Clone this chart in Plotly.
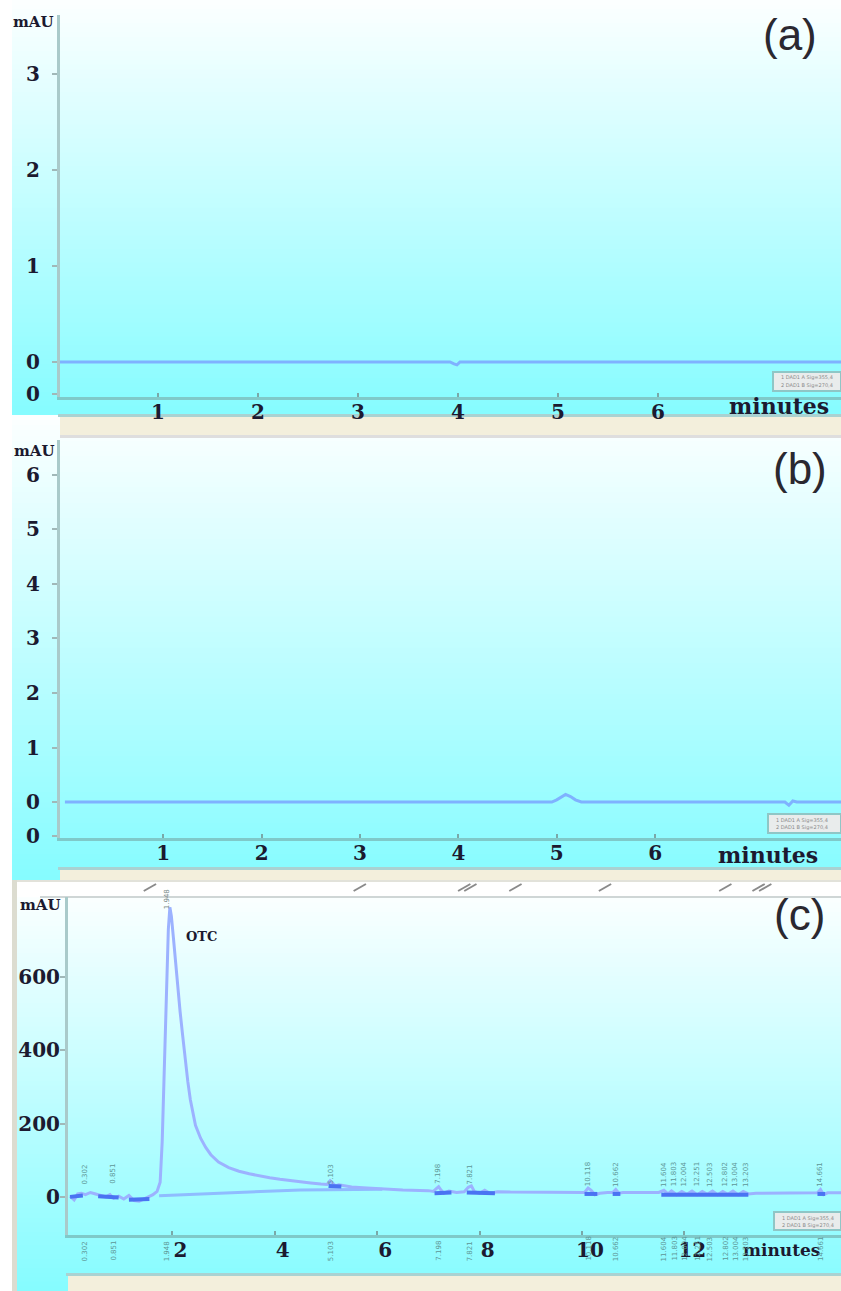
import plotly.graph_objects as go

W, H = 841, 1291

# ---------------- data ----------------
# (a) blank injection: flat trace
time_a = [0.00, 3.92, 3.96, 3.99, 4.02, 7.85]
mau_a = [0.00, 0.00, -0.02, -0.03, 0.00, 0.00]

# (b) blank sample: flat trace with a tiny bump
time_b = [0.00, 4.95, 5.00, 5.05, 5.09, 5.14, 5.19, 5.25, 7.32, 7.36, 7.40, 7.44, 7.90]
mau_b = [0.00, 0.00, 0.04, 0.10, 0.14, 0.10, 0.04, 0.00, 0.00, -0.06, 0.02, 0.00, 0.00]

# (c) spiked sample (OTC)
time_c = [0.00, 0.08, 0.15, 0.22, 0.30, 0.40, 0.50, 0.60, 0.70, 0.78, 0.85, 0.95, 1.05,
          1.15, 1.25, 1.35, 1.45, 1.55, 1.62, 1.70, 1.76, 1.80, 1.84, 1.88, 1.92, 1.95,
          1.98, 2.02, 2.06, 2.10, 2.15, 2.20, 2.25, 2.30, 2.35, 2.40, 2.45, 2.55, 2.65,
          2.75, 2.90, 3.10, 3.30, 3.50, 3.70, 3.90, 4.10, 4.30, 4.50, 4.70, 4.90, 5.02,
          5.08, 5.12, 5.18, 5.25, 5.35, 5.50, 5.80, 6.10, 6.50, 7.00, 7.10, 7.15, 7.20,
          7.25, 7.30, 7.40, 7.55, 7.70, 7.78, 7.84, 7.90, 8.00, 8.10, 8.20, 8.35, 8.60,
          9.20, 9.80, 10.05, 10.12, 10.18, 10.25, 10.35, 10.50, 10.60, 10.66, 10.72,
          10.80, 11.20, 11.50, 11.60, 11.68, 11.75, 11.85, 11.95, 12.05, 12.15, 12.25,
          12.35, 12.45, 12.55, 12.65, 12.75, 12.85, 12.95, 13.05, 13.15, 13.25, 13.40,
          13.80, 14.40, 14.60, 14.66, 14.72, 14.80, 15.10]
mau_c = [2, -8, 8, 10, 6, 12, 8, 4, 0, 6, -4, 2, -6,
         4, -10, -12, -6, 0, 6, 15, 40, 150, 330, 520, 730, 790,
         765, 705, 640, 575, 505, 440, 375, 315, 265, 225, 195, 160, 135,
         115, 95, 80, 70, 63, 57, 52, 48, 44, 41, 38, 35, 34,
         44, 38, 30, 33, 30, 27, 24, 21, 19, 17, 15, 22, 28,
         18, 10, 16, 12, 14, 26, 30, 14, 10, 18, 10, 14, 13,
         12, 12, 12, 24, 18, 6, 10, 12, 12, 20, 10,
         12, 12, 12, 18, 8, 16, 6, 15, 7, 16, 6,
         15, 7, 16, 6, 15, 7, 16, 6, 15, 8, 10,
         11, 11, 11, 20, 6, 11, 11]

# integration baseline under the OTC peak
time_base = [1.74, 4.50, 6.10]
mau_base = [3, 19, 21]

# darker integration segments
seg_time = [0.00, 0.25, None, 0.55, 0.95, None, 1.15, 1.55, None, 5.05, 5.30, None,
            7.12, 7.45, None, 7.75, 8.30, None, 10.05, 10.30, None, 10.60, 10.75, None,
            11.55, 13.25, None, 14.60, 14.75]
seg_mau = [0, 4, None, 2, -2, None, -8, -6, None, 30, 28, None,
           10, 12, None, 12, 10, None, 8, 8, None, 8, 8, None,
           6, 6, None, 8, 8]

# peak retention-time labels (c)
peak_rt = [0.30, 0.85, 5.10, 7.20, 7.82, 10.12, 10.66, 11.60, 11.80, 12.00, 12.25,
           12.50, 12.80, 13.00, 13.20, 14.66]
peak_txt = ["0.302", "0.851", "5.103", "7.198", "7.821", "10.118", "10.662", "11.604",
            "11.803", "12.004", "12.251", "12.503", "12.802", "13.004", "13.203", "14.661"]
otc_rt = 1.95
otc_mau = 790

# event marks above panel (c)
event_rt = [1.56, 5.66, 7.70, 7.82, 8.70, 10.45, 12.80, 13.45, 13.58]

xt_a = [1, 2, 3, 4, 5, 6]
xt_b = [1, 2, 3, 4, 5, 6]
xt_c = [2, 4, 6, 8, 10, 12]
yt_a = [-0.33, 0, 1, 2, 3]
yt_a_txt = ["0", "0", "1", "2", "3"]
yt_b = [-0.62, 0, 1, 2, 3, 4, 5, 6]
yt_b_txt = ["0", "0", "1", "2", "3", "4", "5", "6"]
yt_c = [-108, 0, 200, 400, 600]
yt_c_txt = ["0", "0", "200", "400", "600"]

# ---------------- helpers ----------------
def px(x):
    return x / W

def py(y):
    return 1 - y / H

shapes = []

def rect(x0, y0, x1, y1, color, line=None, lw=0):
    shapes.append(dict(type="rect", xref="paper", yref="paper",
                       x0=px(x0), x1=px(x1), y0=py(y1), y1=py(y0),
                       fillcolor=color, line=dict(width=lw, color=line or color),
                       layer="below"))

def gradient(x0, y0, x1, y1, top, bot, n=90):
    h = (y1 - y0) / n
    for i in range(n):
        f = i / (n - 1)
        c = tuple(round(top[k] + (bot[k] - top[k]) * f) for k in range(3))
        rect(x0, y0 + i * h, x1, min(y1, y0 + (i + 1) * h + 1),
             "rgb(%d,%d,%d)" % c)

TOP = (252, 255, 255)
BOT = (134, 252, 255)
BEIGE = "#f3efdc"

# panel backgrounds
gradient(12, 0, 841, 415, TOP, BOT)
gradient(12, 415, 841, 880, TOP, BOT)
gradient(17, 880, 841, 1291, (255, 255, 255), BOT)
# white header of panel (c)
rect(17, 880, 841, 897, "#ffffff")
rect(12, 880, 17, 1291, "#dcdcd0")
rect(17, 880, 841, 882, "#e2e2da")
rect(40, 896, 841, 898, "#cfd6d6")
# beige separator strips
rect(58, 414, 841, 417, "#a9d2d2")
rect(60, 417, 841, 437, BEIGE)
rect(60, 435, 841, 438, "#dedede")
rect(58, 867, 841, 870, "#a9d2d2")
rect(60, 870, 841, 880, BEIGE)
rect(66, 1273, 841, 1276, "#a9d2d2")
rect(68, 1276, 841, 1291, BEIGE)

# legend-like boxes
for (x0, y0, x1, y1) in [(773, 372, 841, 391), (768, 814, 841, 833), (774, 1212, 841, 1230)]:
    rect(x0, y0, x1, y1, "#e9ecec", "#8fc6c6", 2)

# event marks above (c)
for t in event_rt:
    shapes.append(dict(type="line", xref="x3", yref="paper",
                       x0=t - 0.12, x1=t + 0.12, y0=py(891), y1=py(884),
                       line=dict(color="#8a8a8a", width=2)))

fig = go.Figure()

LINE = "#7fb2ff"
fig.add_trace(go.Scatter(x=time_a, y=mau_a, mode="lines", xaxis="x", yaxis="y",
                         line=dict(color=LINE, width=3), showlegend=False))
fig.add_trace(go.Scatter(x=time_b, y=mau_b, mode="lines", xaxis="x2", yaxis="y2",
                         line=dict(color=LINE, width=3), showlegend=False))
fig.add_trace(go.Scatter(x=time_base, y=mau_base, mode="lines", xaxis="x3", yaxis="y3",
                         line=dict(color="#8fbcff", width=3), showlegend=False))
fig.add_trace(go.Scatter(x=time_c, y=mau_c, mode="lines", xaxis="x3", yaxis="y3",
                         line=dict(color="#9cb2ff", width=3), showlegend=False))
fig.add_trace(go.Scatter(x=seg_time, y=seg_mau, mode="lines", xaxis="x3", yaxis="y3",
                         line=dict(color="#4a73f2", width=4), showlegend=False,
                         connectgaps=False))

TF = dict(family="DejaVu Serif", size=20, color="#1c1a30", weight="bold")
AXC = "#a9caca"
XAXC = "#7fc9c9"

def xax(dom, rng, tv, anchor):
    return dict(domain=dom, range=rng, tickvals=tv, ticktext=[str(v) for v in tv],
                showgrid=False, zeroline=False, showline=True, linecolor=XAXC, linewidth=3,
                ticks="inside", ticklen=4, tickcolor="#7aa8a8", tickwidth=2,
                ticklabelstandoff=-5, tickfont=TF, anchor=anchor, fixedrange=True,
                automargin=False)

def yax(dom, rng, tv, tt, anchor, standoff=8):
    return dict(domain=dom, range=rng, tickvals=tv, ticktext=tt,
                showgrid=False, zeroline=False, showline=True, linecolor=AXC, linewidth=3,
                ticks="outside", ticklen=5, tickcolor="#a0b8b8", tickwidth=2,
                ticklabelstandoff=standoff, tickfont=TF, anchor=anchor, fixedrange=True,
                automargin=False)

layout = dict(
    width=W, height=H, margin=dict(l=0, r=0, t=0, b=0, pad=0, autoexpand=False),
    paper_bgcolor="#ffffff", plot_bgcolor="rgba(0,0,0,0)",
    xaxis=xax([px(60), 1], [0.02, 7.83], xt_a, "y"),
    yaxis=yax([py(397), py(15)], [-0.365, 3.61], yt_a, yt_a_txt, "x"),
    xaxis2=xax([px(60), 1], [-0.05, 7.89], xt_b, "y2"),
    yaxis2=yax([py(838), py(440)], [-0.66, 6.64], yt_b, yt_b_txt, "x2"),
    xaxis3=xax([px(68), 1], [-0.04, 15.06], xt_c, "y3"),
    yaxis3=yax([py(1235), py(897)], [-104, 818], yt_c, yt_c_txt, "x3", standoff=-4),
    shapes=shapes,
)
layout["xaxis3"]["ticklabelshift"] = 8
fig.update_layout(**layout)

ann = []
def label(x, y, text, size, family="DejaVu Serif", color="#1c1a30", weight="bold", **kw):
    ann.append(dict(x=px(x), y=py(y), xref="paper", yref="paper", text=text,
                    xanchor="center", yanchor="middle", showarrow=False,
                    font=dict(family=family, size=size, color=color, weight=weight),
                    **kw))

label(33, 22, "mAU", 15)
label(34, 451, "mAU", 15)
label(40, 905, "mAU", 15)
label(779, 406, "minutes", 22)
label(768, 855, "minutes", 22)
label(781, 1250, "minutes", 17)
label(790, 34, "(a)", 44, family="Liberation Sans", color="#2a2830", weight="normal")
label(800, 468, "(b)", 44, family="Liberation Sans", color="#2a2830", weight="normal")
label(799, 914, "(c)", 44, family="Liberation Sans", color="#2a2830", weight="normal")
label(201, 936, "OTC", 13)

for (x0, y0) in [(773, 372), (768, 814), (774, 1212)]:
    label(x0 + 34, y0 + 6, "1 DAD1 A Sig=355,4", 5, family="DejaVu Sans", color="#8a8a8a", weight="normal")
    label(x0 + 34, y0 + 13, "2 DAD1 B Sig=270,4", 5, family="DejaVu Sans", color="#8a8a8a", weight="normal")

# peak labels (c): above peaks and along the bottom
for t, s in zip(peak_rt, peak_txt):
    ann.append(dict(x=t, y=62, xref="x3", yref="y3", text=s, textangle=-90, showarrow=False,
                    font=dict(family="DejaVu Sans", size=7, color="#5e9696")))
    ann.append(dict(x=t, y=py(1263), xref="x3", yref="paper", text=s, textangle=-90,
                    showarrow=False, font=dict(family="DejaVu Sans", size=7, color="#5e9696")))
ann.append(dict(x=otc_rt - 0.05, y=otc_mau - 10, xref="x3", yref="y3", text="1.948",
                textangle=-90, showarrow=False, yanchor="bottom",
                font=dict(family="DejaVu Sans", size=7, color="#7a8a8a")))
ann.append(dict(x=otc_rt - 0.05, y=py(1263), xref="x3", yref="paper", text="1.948",
                textangle=-90, showarrow=False,
                font=dict(family="DejaVu Sans", size=7, color="#5e9696")))

fig.update_layout(annotations=ann)
fig.write_html(
    "out.html",
    config={"displayModeBar": False},
    post_script=("document.documentElement.style.margin='0';"
                 "document.body.style.margin='0';"
                 "document.documentElement.style.overflow='hidden';"
                 "document.body.style.overflow='hidden';"),
)
